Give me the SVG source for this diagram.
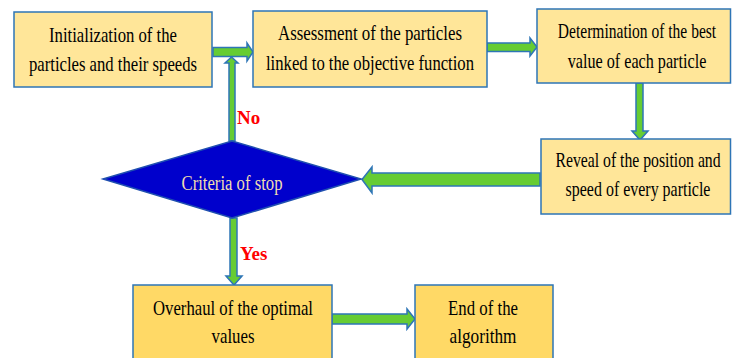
<svg xmlns="http://www.w3.org/2000/svg" width="732" height="358" viewBox="0 0 732 358">
<style>
.box{fill:#FFE699;stroke:#2E75B6;stroke-width:1.5}
.box2{fill:#FFD966;stroke:#2E75B6;stroke-width:1.5}
.t{font-family:"Liberation Serif","Times New Roman",serif;font-size:21px;fill:#000;text-anchor:middle}
.arr{fill:#66CC33;stroke:#2E75B6;stroke-width:1.5;stroke-linejoin:miter}
.lab{font-family:"Liberation Serif","Times New Roman",serif;font-size:19px;font-weight:bold;fill:#FF0000}
</style>
<rect width="732" height="358" fill="#fff"/>
<g id="connectors">
<polygon class="arr" points="213,47.5 247,47.5 247,43 253,52 247,61 247,56.5 213,56.5"/>
<polygon class="arr" points="487,43 530,43 530,38 537,47 530,56 530,51.5 487,51.5"/>
<polygon class="arr" points="636,83 643,83 643,131 648,131 640,140 632,131 636,131"/>
<polygon class="arr" points="540,173 372,173 372,167 362,179.5 372,193 372,186 540,186"/>
<polygon class="arr" points="229,141 229,63 225,63 231.5,57 238,63 235,63 235,141"/>
<polygon class="arr" points="230,218 230,276 226,276 234,285 242,276 237,276 237,218"/>
<polygon class="arr" points="332,314 407,314 407,309 415,319 407,329 407,324 332,324"/>
<text class="lab" x="237" y="124">No</text>
<text class="lab" x="240" y="260">Yes</text>
</g>
<g id="n1">
<rect class="box" x="14" y="12" width="198" height="75"/>
<text class="t" x="113" y="42" textLength="128" lengthAdjust="spacingAndGlyphs">Initialization of the</text>
<text class="t" x="113" y="71" textLength="168" lengthAdjust="spacingAndGlyphs">particles and their speeds</text>
</g>
<g id="n2">
<rect class="box" x="253" y="11" width="234" height="76"/>
<text class="t" x="370" y="40" textLength="184" lengthAdjust="spacingAndGlyphs">Assessment of the particles</text>
<text class="t" x="370" y="70" textLength="208" lengthAdjust="spacingAndGlyphs">linked to the objective function</text>
</g>
<g id="n3">
<rect class="box" x="537" y="9" width="193.5" height="74"/>
<text class="t" transform="translate(637,38) scale(0.74,1)">Determination of the best</text>
<text class="t" transform="translate(637,68) scale(0.77,1)">value of each particle</text>
</g>
<g id="n4">
<rect class="box" x="541" y="139" width="189.5" height="75"/>
<text class="t" transform="translate(638,167) scale(0.75,1)">Reveal of the position and</text>
<text class="t" transform="translate(638,196) scale(0.76,1)">speed of every particle</text>
</g>
<g id="n5">
<polygon points="103,179 232,141 361,179 232,218" fill="#0000CC" stroke="#1F4FB0" stroke-width="1.5"/>
<text x="232" y="190" font-family="Liberation Serif, Times New Roman, serif" font-size="20" fill="#F0DDB0" text-anchor="middle" textLength="101" lengthAdjust="spacingAndGlyphs">Criteria of stop</text>
</g>
<g id="n6">
<rect class="box2" x="133" y="285" width="199" height="80"/>
<text class="t" x="233" y="315" textLength="160" lengthAdjust="spacingAndGlyphs">Overhaul of the optimal</text>
<text class="t" x="233" y="343" textLength="43" lengthAdjust="spacingAndGlyphs">values</text>
</g>
<g id="n7">
<rect class="box2" x="415" y="285" width="138" height="80"/>
<text class="t" x="483" y="315" textLength="70" lengthAdjust="spacingAndGlyphs">End of the</text>
<text class="t" x="483" y="343" textLength="67" lengthAdjust="spacingAndGlyphs">algorithm</text>
</g>
</svg>
